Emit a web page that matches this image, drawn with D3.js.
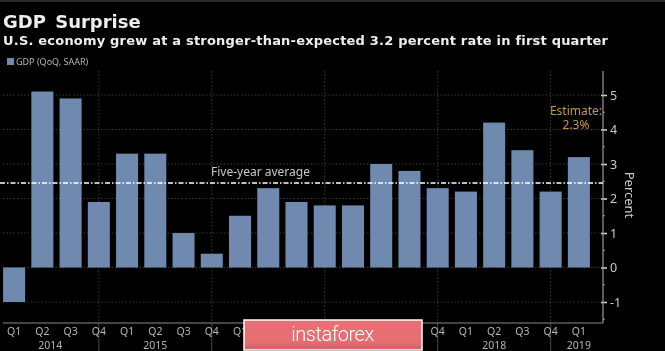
<!DOCTYPE html>
<html>
<head>
<meta charset="utf-8">
<script src="https://cdn.jsdelivr.net/npm/d3@7"></script>
<style>
html, body { margin: 0; padding: 0; background: #000; }
svg { display: block; filter: blur(0.35px); }
text { font-family: "Noto Sans", sans-serif; }
</style>
</head>
<body>
<div id="chart"></div>
<script>
// DATA
const quarters = ['Q1','Q2','Q3','Q4','Q1','Q2','Q3','Q4','Q1','Q2','Q3','Q4','Q1','Q2','Q3','Q4','Q1','Q2','Q3','Q4','Q1'];
const periods = ['2014 Q1','2014 Q2','2014 Q3','2014 Q4','2015 Q1','2015 Q2','2015 Q3','2015 Q4','2016 Q1','2016 Q2','2016 Q3','2016 Q4','2017 Q1','2017 Q2','2017 Q3','2017 Q4','2018 Q1','2018 Q2','2018 Q3','2018 Q4','2019 Q1'];
const gdp = [-1, 5.1, 4.9, 1.9, 3.3, 3.3, 1.0, 0.4, 1.5, 2.3, 1.9, 1.8, 1.8, 3.0, 2.8, 2.3, 2.2, 4.2, 3.4, 2.2, 3.2];
const yTicks = [-1, 0, 1, 2, 3, 4, 5];
const yMinorTicks = [-1.5, -0.5, 0.5, 1.5, 2.5, 3.5, 4.5];
const yearLabels = ['2014', '2015', '2018', '2019'];
const yearAnchors = ['2014 Q2', '2015 Q2', '2018 Q2', '2019 Q1'];
const estimateLines = ['Estimate:', '2.3%'];
const fiveYearAverage = 2.45;

const width = 665, height = 351;
const axisX = 603, plotTop = 71, plotBottom = 323;
const badge = { x: 244, y: 320, w: 178, h: 30 };

const svg = d3.select('#chart').append('svg')
    .attr('width', width)
    .attr('height', height)
    .attr('viewBox', `0 0 ${width} ${height}`);

svg.append('rect').attr('width', width).attr('height', 2).attr('fill', '#2a2a2a');

// SCALES
const x = d3.scaleBand()
    .domain(periods)
    .range([0, 593])
    .paddingInner(0.22)
    .paddingOuter(0.11);

const y = d3.scaleLinear()
    .domain([-1, 5])
    .range([302, 95]);

const xMid = d => x(d) + x.bandwidth() / 2;

// GRID
svg.append('g')
    .selectAll('line')
    .data(yTicks)
    .join('line')
    .attr('x1', 3).attr('x2', axisX)
    .attr('y1', d => y(d)).attr('y2', d => y(d))
    .attr('stroke', '#4a4a4a')
    .attr('stroke-width', 0.8)
    .attr('stroke-dasharray', '1.5,2');

svg.append('g')
    .selectAll('line')
    .data(periods.filter(p => p.endsWith('Q4')))
    .join('line')
    .attr('x1', xMid).attr('x2', xMid)
    .attr('y1', plotTop).attr('y2', plotBottom)
    .attr('stroke', '#4a4a4a')
    .attr('stroke-width', 0.8)
    .attr('stroke-dasharray', '1.5,2');

// year separators below the axis
svg.append('g')
    .selectAll('line')
    .data(periods.filter(p => p.endsWith('Q4')))
    .join('line')
    .attr('x1', xMid).attr('x2', xMid)
    .attr('y1', plotBottom).attr('y2', height)
    .attr('stroke', '#5a5a5a')
    .attr('stroke-width', 0.8);

// BARS
svg.append('g')
    .selectAll('rect')
    .data(periods)
    .join('rect')
    .attr('x', d => x(d))
    .attr('width', x.bandwidth())
    .attr('y', (d, i) => y(Math.max(0, gdp[i])))
    .attr('height', (d, i) => Math.abs(y(gdp[i]) - y(0)))
    .attr('fill', '#7089ae');

// AXES
const axisRight = svg.append('g')
    .attr('transform', `translate(${axisX},0)`)
    .call(d3.axisRight(y).tickValues(yTicks).tickSize(4).tickPadding(3).tickFormat(d => String(d)))
    .call(g => g.select('.domain').remove())
    .call(g => g.selectAll('.tick line').attr('stroke', '#ddd').attr('stroke-width', 1.5).attr('x1', -2))
    .call(g => g.selectAll('text').attr('fill', '#c9c9c9').attr('font-size', 12.5).style('font-family', '"Noto Sans", sans-serif'));

axisRight.append('g')
    .selectAll('line')
    .data(yMinorTicks)
    .join('line')
    .attr('x1', 0).attr('x2', 2)
    .attr('y1', d => y(d)).attr('y2', d => y(d))
    .attr('stroke', '#999');

svg.append('line')
    .attr('x1', axisX).attr('x2', axisX)
    .attr('y1', plotTop).attr('y2', plotBottom)
    .attr('stroke', '#9a9a9a').attr('stroke-width', 1.2);

svg.append('line')
    .attr('x1', 3).attr('x2', axisX)
    .attr('y1', plotBottom).attr('y2', plotBottom)
    .attr('stroke', '#8a8a8a').attr('stroke-width', 1.2);

// QUARTER + YEAR LABELS
// labels that sit wholly behind the badge are not drawn
svg.append('g')
    .selectAll('text')
    .data(periods.map((p, i) => ({ p, q: quarters[i] }))
        .filter(d => xMid(d.p) < badge.x + 7 || xMid(d.p) > badge.x + badge.w))
    .join('text')
    .attr('x', d => xMid(d.p))
    .attr('y', 334.5)
    .attr('text-anchor', 'middle')
    .attr('fill', '#b5b5b5')
    .attr('font-size', 10.5)
    .text(d => d.q);

// 2014 starts mid chart edge so it sits a little right of its Q2
svg.append('g')
    .selectAll('text')
    .data(yearLabels)
    .join('text')
    .attr('x', (d, i) => xMid(yearAnchors[i]) + (d === '2014' ? 8 : 0))
    .attr('y', 349)
    .attr('text-anchor', 'middle')
    .attr('fill', '#b5b5b5')
    .attr('font-size', 10.5)
    .text(d => d);

// AVERAGE LINE
svg.append('line')
    .attr('x1', 0).attr('x2', axisX)
    .attr('y1', y(fiveYearAverage)).attr('y2', y(fiveYearAverage))
    .attr('stroke', '#fff')
    .attr('stroke-width', 1.6)
    .attr('stroke-dasharray', '5,2,1.5,2');

svg.append('text')
    .attr('x', 211).attr('y', 176)
    .attr('fill', '#c9c9c9')
    .attr('font-size', 12)
    .text('Five-year average');

// ESTIMATE
svg.append('text')
    .attr('text-anchor', 'middle')
    .attr('fill', '#c8974f')
    .attr('font-size', 12)
    .selectAll('tspan')
    .data(estimateLines)
    .join('tspan')
    .attr('x', 576)
    .attr('y', (d, i) => 115 + i * 14)
    .text(d => d);

// PERCENT
svg.append('text')
    .attr('transform', 'translate(625,195) rotate(90)')
    .attr('text-anchor', 'middle')
    .attr('fill', '#c9c9c9')
    .attr('font-size', 13)
    .text('Percent');

// TITLE
svg.append('text').attr('x', 3).attr('y', 28)
    .attr('fill', '#eee').attr('font-size', 18).attr('font-weight', 'bold')
    .attr('word-spacing', 3)
    .style('font-family', '"DejaVu Sans", sans-serif')
    .text('GDP Surprise');
svg.append('text').attr('x', 3).attr('y', 45)
    .attr('fill', '#eee').attr('font-size', 13).attr('font-weight', 'bold')
    .attr('letter-spacing', 0.2)
    .style('font-family', '"DejaVu Sans", sans-serif')
    .text('U.S. economy grew at a stronger-than-expected 3.2 percent rate in first quarter');

// LEGEND
svg.append('rect').attr('x', 7).attr('y', 58).attr('width', 7).attr('height', 7).attr('fill', '#7089ae');
svg.append('text').attr('x', 16).attr('y', 65)
    .attr('fill', '#b5b5b5').attr('font-size', 9)
    .text('GDP (QoQ, SAAR)');

// WATERMARK
const grad = svg.append('defs').append('linearGradient')
    .attr('id', 'badgeFill')
    .attr('x1', 0).attr('y1', 0).attr('x2', 0).attr('y2', 1);
grad.append('stop').attr('offset', '0%').attr('stop-color', '#e96f74');
grad.append('stop').attr('offset', '70%').attr('stop-color', '#e56f73');
grad.append('stop').attr('offset', '100%').attr('stop-color', '#cf6266');

svg.append('rect')
    .attr('x', badge.x).attr('y', badge.y).attr('width', badge.w).attr('height', badge.h)
    .attr('fill', 'url(#badgeFill)').attr('stroke', '#fff').attr('stroke-width', 1.5);
svg.append('text')
    .attr('x', 332.5).attr('y', 341)
    .attr('text-anchor', 'middle')
    .attr('fill', '#fff')
    .attr('font-size', 20)
    .attr('font-weight', 300)
    .attr('letter-spacing', -0.5)
    .style('font-family', 'Roboto, sans-serif')
    .text('instaforex');
</script>
</body>
</html>
